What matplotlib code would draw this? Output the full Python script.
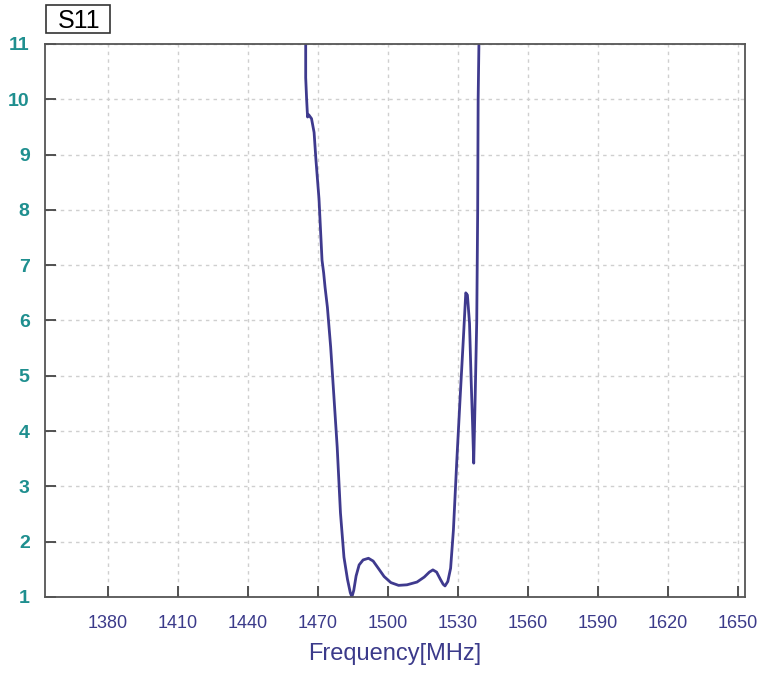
import numpy as np
import matplotlib
matplotlib.use('Agg')
import matplotlib.pyplot as plt
from matplotlib.patches import Rectangle

plt.rcParams['font.family'] = ['Liberation Sans', 'DejaVu Sans']

# S11 trace (frequency in MHz, S11 value)
freq = [1464.7, 1464.7, 1465.1, 1465.5, 1466.0, 1467.2, 1468.3, 1469.1, 1470.4,
        1471.7, 1472.4, 1473.0, 1474.0, 1475.4, 1476.8, 1478.2, 1479.6, 1481.1,
        1482.6, 1483.8, 1484.5, 1485.3, 1486.3, 1487.6, 1489.3, 1491.6, 1493.6,
        1495.8, 1498.3, 1501.2, 1504.5, 1508.1, 1512.4, 1515.5, 1517.7, 1519.2,
        1520.8, 1522.4, 1523.6, 1524.4, 1525.6, 1526.8,
        1528.0, 1529.4, 1530.9, 1532.3, 1533.3, 1534.0, 1534.9, 1535.6,
        1536.2, 1536.7, 1537.3, 1538.0, 1538.4, 1538.6, 1539.0]
s11 = [11.2, 10.39, 10.0, 9.68, 9.72, 9.65, 9.4, 8.9, 8.2,
       7.09, 6.86, 6.6, 6.24, 5.52, 4.62, 3.71, 2.52, 1.72,
       1.32, 1.08, 1.0, 1.12, 1.38, 1.58, 1.67, 1.70, 1.65,
       1.52, 1.37, 1.26, 1.21, 1.22, 1.27, 1.36, 1.45, 1.49,
       1.45, 1.32, 1.23, 1.2, 1.28, 1.52,
       2.21, 3.42, 4.62, 5.70, 6.50, 6.46, 5.95, 4.92,
       4.15, 3.42, 4.56, 6.0, 8.0, 10.0, 11.2]

xticks = [1380, 1410, 1440, 1470, 1500, 1530, 1560, 1590, 1620, 1650]
yticks = [1, 2, 3, 4, 5, 6, 7, 8, 9, 10, 11]

fig = plt.figure(figsize=(7.58, 6.79), dpi=100)
ax = fig.add_axes([0.0594, 0.1208, 0.9236, 0.8144])

ax.plot(freq, s11, color='#3f3a8e', lw=2.0)

ax.set_xlim(1353, 1653)
ax.set_ylim(1, 11)
ax.set_xticks(xticks)
ax.set_yticks(yticks)
ax.set_xticklabels([str(t) for t in xticks], color='#3b3a8a', fontsize=13)
ax.set_yticklabels([str(t) for t in yticks], color='#1f8f8f', fontsize=14,
                   fontweight='bold')
ax.tick_params(axis='both', direction='in', length=8, width=1.3, color='#444444')
ax.tick_params(axis='x', pad=13)
ax.tick_params(axis='y', pad=11)

ax.grid(True, color='#cfcfcf', linestyle=(0, (2.5, 3)), linewidth=1)
for s in ax.spines.values():
    s.set_color('#555555')
    s.set_linewidth(1.3)

ax.set_xlabel('Frequency[MHz]', color='#3b3a8a', fontsize=17, labelpad=8)

# boxed trace name above the plot
fig.patches.append(Rectangle((0.0607, 0.9514), 0.0844, 0.0412, transform=fig.transFigure,
                             fc='white', ec='#333333', lw=1.2))
fig.text(0.1049, 0.969, 'S11', fontsize=18, ha='center', va='center')

fig.savefig('out.png', dpi=100)
